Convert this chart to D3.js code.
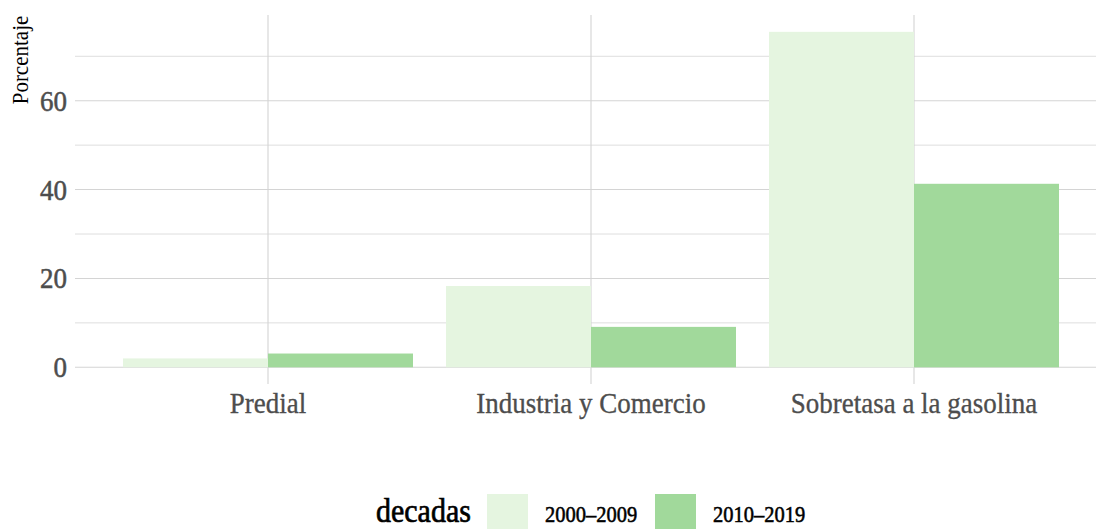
<!DOCTYPE html>
<html lang="es">
<head>
    <meta charset="UTF-8">
    <title>Porcentaje por impuesto</title>
    <script src="https://cdn.jsdelivr.net/npm/d3@7"></script>
    <style>
        body { margin: 0; background: white; }
        text { font-family: "Liberation Serif", "DejaVu Serif", serif; }
    </style>
</head>
<body>
<script>

    var categories = ["Predial", "Industria y Comercio", "Sobretasa a la gasolina"]
    var decades = ["2000-2009", "2010-2019"]
    var decadeLabels = ["2000\u20132009", "2010\u20132019"]
    var values2000 = [2.0, 18.3, 75.5]
    var values2010 = [3.1, 9.1, 41.3]
    var yTicks = [0, 20, 40, 60]
    var yMinor = [10, 30, 50, 70]
    var colors = ["#e5f5e0", "#a1d99b"]

    var width = 1096, height = 529

    var svg = d3.select("body").append("svg")
        .attr("width", width)
        .attr("height", height)

    var panel = {left: 75, right: 1096, top: 15, bottom: 384}

    var xScale = d3.scaleBand()
        .domain(categories)
        .range([106.5, 1075.5])
        .padding(0)

    var inner = d3.scaleBand()
        .domain(decades)
        .range([16.5, 306.5])
        .padding(0)

    var yScale = d3.scaleLinear()
        .domain([0, 60])
        .range([367.3, 100.7])

    var color = d3.scaleOrdinal().domain(decades).range(colors)

    // the original font is a tall, narrow serif: stretch glyphs vertically a bit
    var tall = 1.12
    function place(x, y) {
        return "translate(" + x + "," + y + ") scale(1," + tall + ")"
    }

    var grid = svg.append("g")

    grid.selectAll(".minor").data(yMinor).enter().append("line")
        .attr("x1", panel.left).attr("x2", panel.right)
        .attr("y1", d => yScale(d)).attr("y2", d => yScale(d))
        .attr("stroke", "#dedede").attr("stroke-width", 1)

    grid.selectAll(".major").data(yTicks).enter().append("line")
        .attr("x1", panel.left).attr("x2", panel.right)
        .attr("y1", d => yScale(d)).attr("y2", d => yScale(d))
        .attr("stroke", "#d4d4d4").attr("stroke-width", 1.1)

    grid.selectAll(".vert").data(categories).enter().append("line")
        .attr("x1", d => xScale(d) + xScale.bandwidth() / 2)
        .attr("x2", d => xScale(d) + xScale.bandwidth() / 2)
        .attr("y1", panel.top).attr("y2", panel.bottom)
        .attr("stroke", "#d4d4d4").attr("stroke-width", 1.1)

    // bars
    var rows = categories.map(function (c, i) {
        return [
            {cat: c, dec: decades[0], v: values2000[i]},
            {cat: c, dec: decades[1], v: values2010[i]}
        ]
    })

    svg.append("g").selectAll("g").data(rows).enter().append("g")
        .attr("transform", d => "translate(" + xScale(d[0].cat) + ",0)")
        .selectAll("rect").data(d => d).enter().append("rect")
        .attr("x", d => inner(d.dec))
        .attr("width", inner.bandwidth())
        .attr("y", d => yScale(d.v))
        .attr("height", d => yScale(0) - yScale(d.v))
        .attr("fill", d => color(d.dec))

    // y tick labels
    svg.append("g").selectAll("text").data(yTicks).enter().append("text")
        .attr("transform", d => place(67, yScale(d) + 10))
        .attr("text-anchor", "end")
        .attr("font-size", "27px")
        .attr("fill", "#4d4d4d")
        .attr("stroke", "#4d4d4d")
        .attr("stroke-width", 0.5)
        .text(d => d)

    // x tick labels
    svg.append("g").selectAll("text").data(categories).enter().append("text")
        .attr("transform", d => place(xScale(d) + xScale.bandwidth() / 2, 413))
        .attr("text-anchor", "middle")
        .attr("font-size", "27px")
        .attr("fill", "#4d4d4d")
        .attr("stroke", "#4d4d4d")
        .attr("stroke-width", 0.3)
        .text(d => d)

    // y title
    svg.append("text")
        .attr("transform", "translate(28,60) rotate(-90) scale(1," + tall + ")")
        .attr("text-anchor", "middle")
        .attr("font-size", "21px")
        .attr("fill", "black")
        .text("Porcentaje")

    // legend
    var legend = svg.append("g")
    legend.append("text")
        .attr("transform", place(376, 522))
        .attr("font-size", "30px")
        .attr("fill", "black")
        .attr("stroke", "black")
        .attr("stroke-width", 0.6)
        .text("decadas")

    var keyX = [487, 655]
    decades.forEach(function (d, i) {
        legend.append("rect")
            .attr("x", keyX[i]).attr("y", 494)
            .attr("width", 41).attr("height", 35)
            .attr("fill", color(d))
        legend.append("text")
            .attr("transform", place(keyX[i] + 58, 522))
            .attr("font-size", "20.5px")
            .attr("fill", "black")
            .attr("stroke", "black")
            .attr("stroke-width", 0.5)
            .text(decadeLabels[i])
    })

</script>
</body>
</html>
